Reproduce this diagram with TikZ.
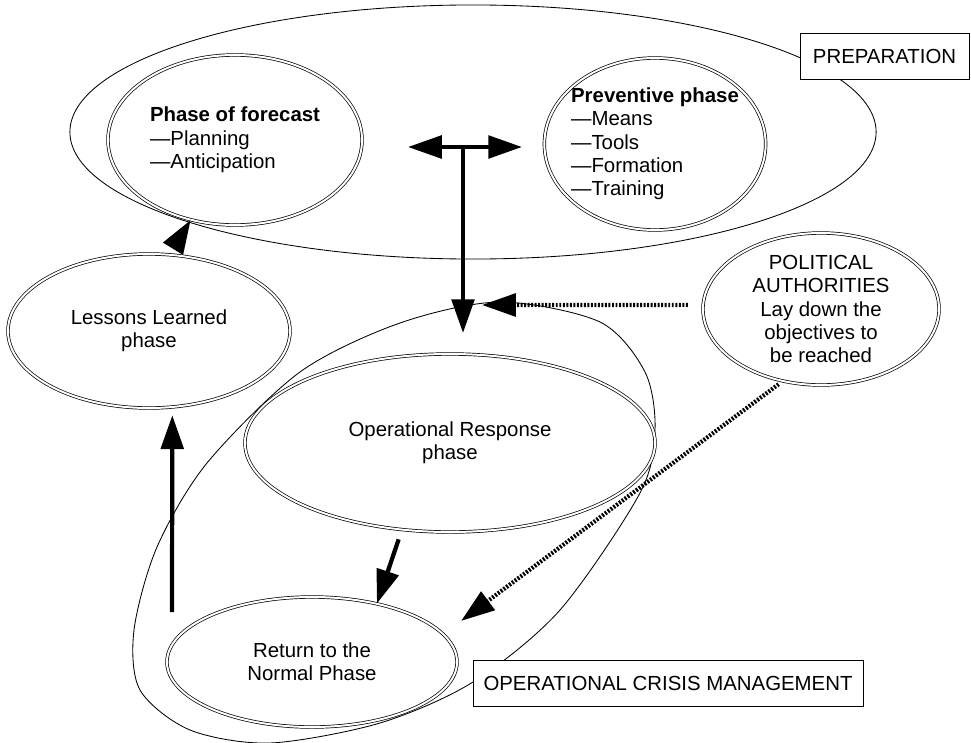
\documentclass[tikz,border=0pt]{standalone}
\usepackage{fontspec}
\setmainfont{Liberation Sans}
\usetikzlibrary{positioning, shapes.geometric, arrows.meta}

\tikzset{
	phase/.style={draw, double, double distance=1.4pt, line width=0.5pt, ellipse, inner sep=-4pt, align=center},
	thinline/.style={line width=0.6pt},
	tag/.style={draw, fill=white, line width=0.6pt, inner sep=0pt},
	bigarrow/.style={line width=3pt, -{Triangle[length=24pt, width=16pt]}},
	twoway/.style={line width=3pt, {Triangle[length=24pt, width=16pt]}-{Triangle[length=24pt, width=16pt]}},
	dotarrow/.style={line width=3pt, dash pattern=on 1.4pt off 1.1pt, -{Triangle[length=24pt, width=16pt]}}
}

\begin{document}
\begin{tikzpicture}[x=0.025cm, y=-0.025cm, every node/.style={font=\fontsize{14.5}{16.6}\selectfont}]
				\useasboundingbox (0,0) rectangle (971,742);

				\draw[thinline] (473,132) ellipse [x radius=10.075cm, y radius=3.175cm];
				\draw[thinline] plot[smooth cycle] coordinates {(500,302) (600,322) (645,372) (655,430) (640,493) (560,610) (473,682) (380,723) (270,743) (190,730) (140,690) (134,630) (157,547) (207,463) (300,372) (400,323)};

				\node[phase, align=left, minimum width=6.35cm, minimum height=4.25cm] (forecast) at (235,140) {\textbf{Phase of forecast}\\—Planning\\—Anticipation};
				\node[phase, align=left, minimum width=5.375cm, minimum height=4.3cm] (preventive) at (655,144) {\textbf{Preventive phase}\\—Means\\—Tools\\—Formation\\—Training};
				\node[phase, minimum width=7.05cm, minimum height=3.85cm] (lessons) at (149,331) {Lessons Learned\\phase};
				\node[phase, minimum width=10.25cm, minimum height=4.45cm] (response) at (450,443) {Operational Response\\phase};
				\node[phase, minimum width=7.25cm, minimum height=3.25cm] (normal) at (312,662) {Return to the\\Normal Phase};
				\node[phase, minimum width=5.9cm, minimum height=3.8cm] (political) at (821,309) {POLITICAL\\AUTHORITIES\\Lay down the\\objectives to\\be reached};

				\coordinate (tleft) at (408,147);
				\coordinate (tright) at (522,147);
				\coordinate (tsplit) at (463,147);
				\coordinate (tdown) at (463,333);
				\coordinate (llbase) at (172,612);
				\coordinate (rpoint) at (482,305);

				\path[bigarrow]
				(lessons.75) edge[shorten <=0.2cm] (forecast.241)
				(llbase) edge[shorten >=0.2cm] (lessons.287)
				(response.241) edge[shorten <=0.25cm] (normal.42)
				(tsplit) edge (tdown);

				\path[twoway]
				(tleft) edge (tright);

				\path[dotarrow]
				(political.178) edge[shorten <=0.375cm] (rpoint)
				(political.242) edge[shorten <=0.125cm, shorten >=0.55cm] (normal.12);

				\node[tag, minimum width=4.225cm, minimum height=1.15cm] (prep) at (884.5,56) {PREPARATION};
				\node[tag, minimum width=9.75cm, minimum height=1.15cm] (ocm) at (668,683) {OPERATIONAL CRISIS MANAGEMENT};
			\end{tikzpicture}
\end{document}
